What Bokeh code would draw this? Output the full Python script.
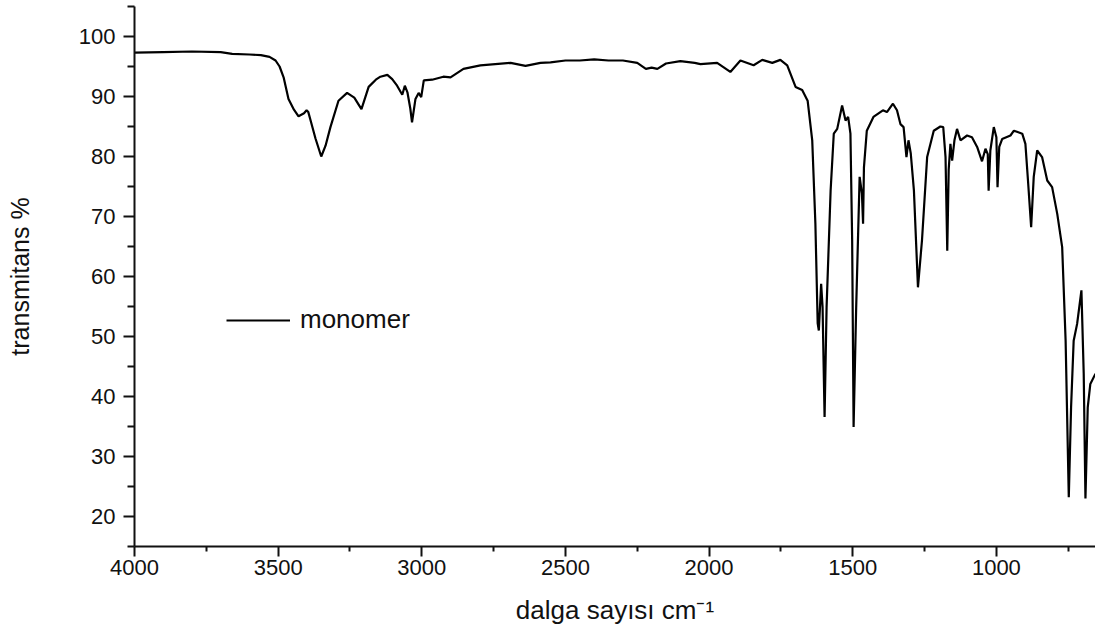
from bokeh.plotting import figure
from bokeh.models import FixedTicker, Range1d, Legend, LegendItem
from bokeh.embed import file_html
from bokeh.resources import INLINE

# IR spectrum of the monomer (wavenumber in cm-1, transmittance in %)
wavenumber = [4000, 3900, 3800, 3700, 3660, 3600, 3560, 3530, 3509, 3495, 3481, 3464, 3445, 3429,
              3410, 3401, 3395, 3387, 3370, 3350, 3335, 3318, 3290, 3260, 3235, 3210, 3185, 3160,
              3144, 3120, 3103, 3086, 3068, 3059, 3050, 3040, 3034, 3022, 3011, 3002, 2993, 2964,
              2925, 2900, 2855, 2796, 2691, 2639, 2587, 2552, 2500, 2450, 2400, 2350, 2300, 2250,
              2220, 2200, 2180, 2150, 2100, 2050, 2030, 1972, 1926, 1891, 1845, 1815, 1780, 1752,
              1728, 1699, 1676, 1657, 1641, 1630, 1622, 1618, 1610, 1605, 1598, 1591, 1577, 1566,
              1554, 1537, 1525, 1516, 1508, 1502, 1497, 1488, 1476, 1468, 1464, 1461, 1451, 1428,
              1395, 1381, 1360, 1346, 1334, 1323, 1313, 1306, 1298, 1287, 1273, 1259, 1241, 1218,
              1195, 1185, 1177, 1171, 1166, 1160, 1154, 1146, 1137, 1125, 1102, 1085, 1067, 1050,
              1038, 1030, 1027, 1021, 1009, 1000, 996, 990, 980, 951, 939, 910, 899, 890, 879, 870,
              858, 841, 823, 806, 788, 771, 759, 748, 740, 731, 719, 704, 696, 690, 682, 673, 655]
transmittance = [97.3, 97.4, 97.5, 97.4, 97.1, 97.0, 96.9, 96.6, 96.0, 95.0, 93.2, 89.6, 87.8, 86.7,
                 87.2, 87.7, 87.4, 86.0, 83.0, 80.0, 81.8, 84.9, 89.3, 90.6, 89.8, 87.9, 91.6, 92.8,
                 93.3, 93.6, 92.9, 91.8, 90.3, 91.8, 90.7, 88.0, 85.7, 89.6, 90.6, 89.9, 92.7, 92.8,
                 93.3, 93.2, 94.6, 95.2, 95.6, 95.1, 95.6, 95.7, 96.0, 96.0, 96.2, 96.0, 96.0, 95.6,
                 94.6, 94.8, 94.6, 95.5, 95.9, 95.6, 95.4, 95.6, 94.1, 96.0, 95.2, 96.1, 95.6, 96.1,
                 95.2, 91.6, 91.1, 89.3, 82.7, 68.8, 52.2, 51.0, 58.8, 54.9, 36.6, 54.9, 74.3, 83.8,
                 84.6, 88.5, 86.0, 86.6, 83.8, 66.0, 34.9, 54.9, 76.6, 73.8, 68.8, 78.2, 84.3, 86.6,
                 87.7, 87.4, 88.8, 87.7, 85.4, 84.9, 79.9, 82.7, 80.5, 74.3, 58.2, 66.0, 79.9, 84.3,
                 85.0, 84.9, 79.9, 64.3, 77.8, 82.1, 79.3, 82.7, 84.6, 82.7, 83.5, 83.2, 81.6, 79.2,
                 81.3, 80.4, 74.3, 81.0, 84.9, 83.2, 74.9, 81.6, 82.9, 83.5, 84.3, 83.8, 82.1, 76.0,
                 68.2, 76.6, 81.0, 79.9, 76.0, 74.9, 70.4, 64.9, 49.3, 23.2, 38.2, 49.3, 52.1, 57.7,
                 43.8, 23.0, 38.2, 42.1, 43.8]

x_major = [4000, 3500, 3000, 2500, 2000, 1500, 1000]
x_minor = [3750, 3250, 2750, 2250, 1750, 1250, 750]
y_major = [20, 30, 40, 50, 60, 70, 80, 90, 100]
y_minor = [15, 25, 35, 45, 55, 65, 75, 85, 95, 105]

series_name = "monomer"
x_title = "dalga sayısı cm⁻¹"
y_title = "transmitans %"

FONT = "Liberation Sans"

p = figure(width=1095, height=633, output_backend="svg", toolbar_location=None,
           x_range=Range1d(4000, 655), y_range=Range1d(15, 105),
           min_border_left=134, min_border_right=0, min_border_top=6, min_border_bottom=87)
p.xgrid.visible = False
p.ygrid.visible = False
p.outline_line_color = None
p.background_fill_color = "white"
p.border_fill_color = "white"

r = p.line(wavenumber, transmittance, line_color="black", line_width=2.2)

p.xaxis.ticker = FixedTicker(ticks=x_major, minor_ticks=x_minor)
p.yaxis.ticker = FixedTicker(ticks=y_major, minor_ticks=y_minor)

for ax in (p.xaxis[0], p.yaxis[0]):
    ax.axis_line_width = 2
    ax.axis_line_color = "#111111"
    ax.major_tick_line_width = 2
    ax.minor_tick_line_width = 2
    ax.major_tick_line_color = "#111111"
    ax.minor_tick_line_color = "#111111"
    ax.major_tick_in = 0
    ax.minor_tick_in = 0
    ax.major_label_text_font = FONT
    ax.major_label_text_font_size = "22px"
    ax.major_label_text_color = "#111111"
    ax.axis_label_text_font = FONT
    ax.axis_label_text_font_style = "normal"
    ax.axis_label_text_color = "#111111"

p.xaxis.axis_label_text_font_size = "26px"
p.yaxis.axis_label_text_font_size = "25px"
p.xaxis.major_tick_out = 10
p.xaxis.minor_tick_out = 5
p.yaxis.major_tick_out = 11
p.yaxis.minor_tick_out = 7
p.xaxis.major_label_standoff = 3
p.yaxis.major_label_standoff = 8
p.xaxis.axis_label = x_title
p.yaxis.axis_label = y_title
p.xaxis.axis_label_standoff = 17
p.yaxis.axis_label_standoff = 42

legend = Legend(items=[LegendItem(label=series_name, renderers=[r])],
                location=(92, 211), glyph_width=64, glyph_height=20, label_standoff=10,
                padding=0, margin=0, border_line_alpha=0, background_fill_alpha=0,
                label_text_font=FONT, label_text_font_size="26px", label_text_color="#111111")
p.add_layout(legend)

open("out.html", "w").write(file_html(p, INLINE))
